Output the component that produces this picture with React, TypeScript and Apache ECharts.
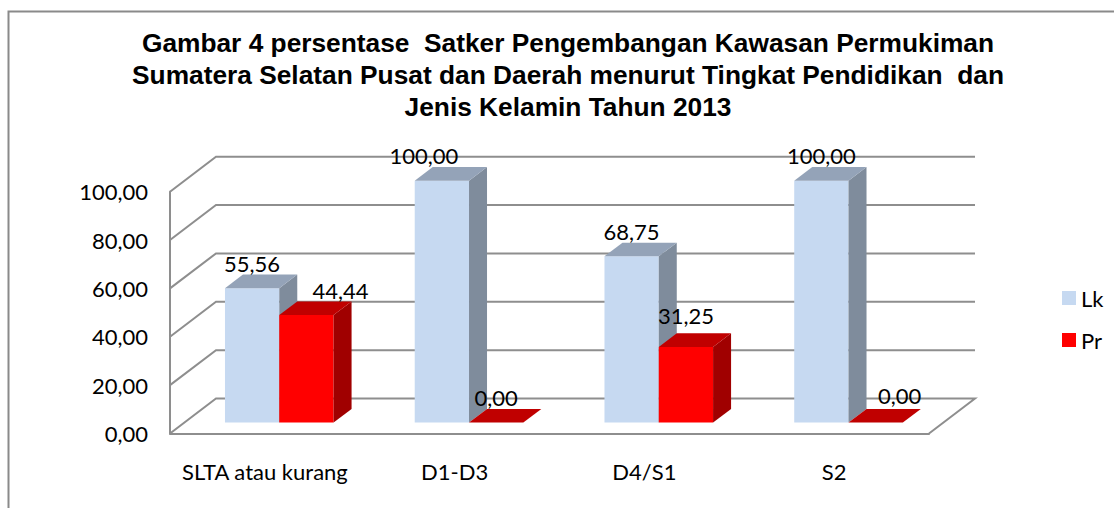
import React, { useEffect, useRef } from "react";
import * as echarts from "echarts";

const titleLines = [
  "Gambar 4 persentase  Satker Pengembangan Kawasan Permukiman",
  "Sumatera Selatan Pusat dan Daerah menurut Tingkat Pendidikan  dan",
  "Jenis Kelamin Tahun 2013",
];
const categories = ["SLTA atau kurang", "D1-D3", "D4/S1", "S2"];
const lk = [55.56, 100, 68.75, 100];
const pr = [44.44, 0, 31.25, 0];
const ticks = [0, 20, 40, 60, 80, 100];

const LABEL = "Lato, Carlito, sans-serif";
const LABEL_SIZE = 22;
const DEPTH_X = 46;
const DEPTH_Y = 35;
const BAR_DX = 14.4;
const BAR_DY = 11;
const BAR_W = 54.3;
const SIDE_X = 18;
const SIDE_Y = 13.6;
const fmt = (v: number) => v.toFixed(2).replace(".", ",");

// hand-placed data label nudges of the original, [dx, dy from default]
const lkNudge = [[0, 0], [-18, 0], [0, 0], [0, 0]];
const prNudge = [[34, 0], [0, 0], [0, -6], [24, -2]];

function barRenderer(side: -1 | 1, front: string, top: string, right: string, nudges: number[][]) {
  return (_params: any, api: any) => {
    const i = api.value(0);
    const v = api.value(1);
    const base = api.coord([i, 0]);
    const head = api.coord([i, v]);
    const x0 = base[0] + BAR_DX + (side < 0 ? -BAR_W : 0);
    const x1 = x0 + BAR_W;
    const yB = base[1] - BAR_DY;
    const yT = head[1] - BAR_DY;
    const n = nudges[i];
    const children: any[] = [];
    if (v > 0) {
      children.push({
        type: "rect",
        shape: { x: x0, y: yT, width: BAR_W, height: yB - yT },
        style: { fill: front },
      });
      children.push({
        type: "polygon",
        shape: { points: [[x1, yT], [x1 + SIDE_X, yT - SIDE_Y], [x1 + SIDE_X, yB - SIDE_Y], [x1, yB]] },
        style: { fill: right },
      });
    }
    children.push({
      type: "polygon",
      shape: { points: [[x0, yT], [x1, yT], [x1 + SIDE_X, yT - SIDE_Y], [x0 + SIDE_X, yT - SIDE_Y]] },
      style: { fill: top },
    });
    children.push({
      type: "text",
      z2: 20,
      style: {
        text: fmt(v),
        x: (x0 + x1) / 2 + n[0],
        y: yT - 25 + n[1],
        align: "center",
        verticalAlign: "middle",
        font: `${LABEL_SIZE}px ${LABEL}`,
        fill: "#000",
      },
    });
    return { type: "group", children };
  };
}

function gridRenderer(_params: any, api: any) {
  const v = api.value(0);
  const band = api.size([1, 0])[0];
  const first = api.coord([0, v]);
  const last = api.coord([categories.length - 1, v]);
  const left = [first[0] - band / 2, first[1]];
  const right = [last[0] + band / 2, last[1]];
  const pts: number[][] = [
    [left[0], left[1]],
    [left[0] + DEPTH_X, left[1] - DEPTH_Y],
    [right[0] + DEPTH_X, right[1] - DEPTH_Y],
  ];
  if (v === 0) pts.push([right[0], right[1]]);
  return {
    type: "polyline",
    shape: { points: pts },
    style: { stroke: "#8e8e8e", lineWidth: 2, fill: "none" },
  };
}

export default function App() {
  const ref = useRef<HTMLDivElement>(null);
  useEffect(() => {
    const chart = echarts.init(ref.current!, null, { renderer: "svg" });
    chart.setOption({
      animation: false,
      backgroundColor: "#fff",
      title: {
        text: titleLines.join("\n"),
        left: 563,
        top: 22,
        textAlign: "center",
        textStyle: {
          fontFamily: "'Liberation Sans', Arial, sans-serif",
          fontWeight: "bold",
          fontSize: 26.3,
          lineHeight: 32,
          color: "#000",
        },
      },
      legend: {
        orient: "vertical",
        left: 1062,
        top: 287,
        padding: 0,
        itemWidth: 14,
        itemHeight: 14,
        itemGap: 20,
        icon: "rect",
        data: ["Lk", "Pr"],
        textStyle: { fontFamily: LABEL, fontSize: LABEL_SIZE, color: "#000" },
      },
      grid: { left: 170, right: 185, top: 191.7, bottom: 74.5 },
      xAxis: {
        type: "category",
        data: categories,
        axisTick: { show: false },
        axisLine: { lineStyle: { color: "#8e8e8e", width: 2 } },
        axisLabel: { fontFamily: LABEL, fontSize: LABEL_SIZE, color: "#000", margin: 27, interval: 0 },
      },
      yAxis: {
        type: "value",
        min: 0,
        max: 100,
        interval: 20,
        splitLine: { show: false },
        axisTick: { show: false },
        axisLine: { show: true, lineStyle: { color: "#8e8e8e", width: 2 } },
        axisLabel: {
          fontFamily: LABEL,
          fontSize: LABEL_SIZE,
          color: "#000",
          margin: 22,
          formatter: (v: number) => fmt(v),
        },
      },
      series: [
        {
          type: "custom",
          name: "grid",
          data: ticks.map((t) => [t]),
          encode: { y: 0 },
          renderItem: gridRenderer,
          silent: true,
          z: 1,
        },
        {
          type: "custom",
          name: "Lk",
          data: lk.map((v, i) => [i, v]),
          encode: { x: 0, y: 1 },
          itemStyle: { color: "#C6D9F1" },
          renderItem: barRenderer(-1, "#C6D9F1", "#94A3B8", "#7F8C9C", lkNudge),
          z: 3,
        },
        {
          type: "custom",
          name: "Pr",
          data: pr.map((v, i) => [i, v]),
          encode: { x: 0, y: 1 },
          itemStyle: { color: "#FF0000" },
          renderItem: barRenderer(1, "#FF0000", "#C00000", "#A00000", prNudge),
          z: 3,
        },
      ],
      graphic: [
        {
          type: "polyline",
          silent: true,
          shape: { points: [[8.5, 508], [8.5, 11.5], [1114, 11.5]] },
          style: { stroke: "#8a8a8a", lineWidth: 2, fill: "none" },
        },
      ],
    });
    return () => chart.dispose();
  }, []);
  return (
    <div
      ref={ref}
      style={{ position: "absolute", left: 0, top: 0, width: 1114, height: 508 }}
    />
  );
}
